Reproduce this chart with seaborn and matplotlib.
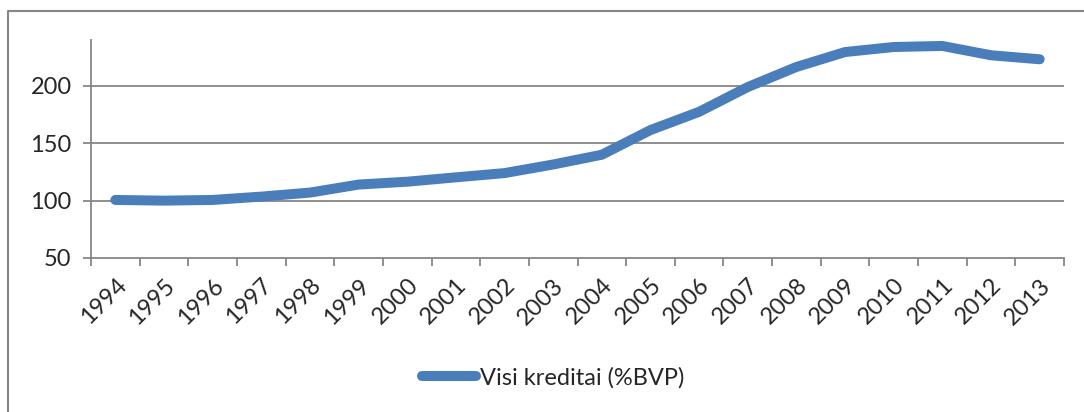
import numpy as np
import pandas as pd
import matplotlib
matplotlib.use("Agg")
import matplotlib.pyplot as plt
from matplotlib.lines import Line2D
import seaborn as sns

# --- data ---
years = list(range(1994, 2014))
credit = [100.6, 100.0, 100.6, 103.5, 107.0, 114.0, 116.5, 120.3, 124.0, 131.5,
          140.0, 161.5, 177.4, 199.0, 216.5, 229.5, 233.9, 234.8, 226.7, 223.2]
series_name = "Visi kreditai (%BVP)"
y_ticks = [50, 100, 150, 200]

LINE = "#4A7EBB"
GREY = "#868686"

sns.set_style("white")
plt.rcParams["font.family"] = ["Lato", "DejaVu Sans"]

df = pd.DataFrame({"year": years, "value": credit})

fig = plt.figure(figsize=(10.84, 4.12), dpi=100)
ax = fig.add_axes([91 / 1084, 1 - 258 / 412, (1064 - 91) / 1084, (258 - 40) / 412])

sns.lineplot(data=df, x="year", y="value", ax=ax, color=LINE, linewidth=7.2,
             solid_capstyle="round", label=series_name, legend=False)

ax.set_xlim(years[0] - 0.5, years[-1] + 0.5)
ax.set_ylim(50, 240)
ax.set_yticks(y_ticks)
ax.set_yticklabels([str(v) for v in y_ticks], fontsize=17)
for v in y_ticks[1:]:
    ax.axhline(v, color=GREY, linewidth=1.3, zorder=0)

ax.set_xticks(years)
ax.set_xticklabels([str(y) for y in years], rotation=45, ha="right",
                   rotation_mode="anchor", fontsize=17)
ax.set_xticks([y - 0.5 for y in years] + [years[-1] + 0.5], minor=True)
ax.tick_params(axis="x", which="major", length=0, pad=12)
ax.tick_params(axis="x", which="minor", length=6, width=1.3, color=GREY, direction="out")
ax.tick_params(axis="y", length=6, width=1.3, color=GREY, direction="out", pad=8)
ax.yaxis.set_ticks_position("left")
ax.xaxis.set_ticks_position("bottom")
ax.set_xlabel("")
ax.set_ylabel("")

for side in ["top", "right"]:
    ax.spines[side].set_visible(False)
for side in ["left", "bottom"]:
    ax.spines[side].set_color(GREY)
    ax.spines[side].set_linewidth(1.3)

# chart-area frame (top and left edges visible in the reference)
fig.add_artist(Line2D([8 / 1084, 8 / 1084, 1.0], [0.0, 1 - 11 / 412, 1 - 11 / 412],
                      transform=fig.transFigure, color=GREY, linewidth=1.5))

handles, labels = ax.get_legend_handles_labels()
fig.legend(handles, labels, loc="center", bbox_to_anchor=(553 / 1084, 1 - 378 / 412),
           frameon=False, fontsize=17, handlelength=2.3, handletextpad=0.15)

fig.savefig("out.png", dpi=100)
